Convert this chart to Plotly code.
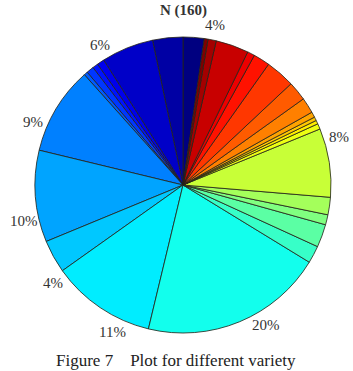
import numpy as np
import plotly.graph_objects as go

# slice sizes (percent of total), counterclockwise from 12 o'clock
values = [2.3, 3.3, 5.7, 0.8, 0.6, 0.8, 0.4, 9.6, 10.0, 3.6, 11.4, 20.0,
          1.9, 2.5, 1.1, 1.9, 7.5, 0.6, 0.4, 0.4, 0.6, 1.7, 2.1, 3.2,
          1.8, 0.8, 3.6, 0.9, 0.4]
labels_txt = ["", "", "6%", "", "", "", "", "9%", "10%", "4%", "11%", "20%",
              "", "", "", "", "8%", "", "", "", "", "", "", "",
              "", "", "4%", "", ""]
title_txt = "N (160)"
caption_txt = "Figure 7\u00a0\u00a0\u00a0\u00a0Plot for different variety"

W, H = 353, 371
CX, CY, R = 183, 185, 148


def jet(x):
    r = np.clip(1.5 - abs(4 * x - 3), 0, 1)
    g = np.clip(1.5 - abs(4 * x - 2), 0, 1)
    b = np.clip(1.5 - abs(4 * x - 1), 0, 1)
    return "rgb(%d,%d,%d)" % (round(r * 255), round(g * 255), round(b * 255))


n = len(values)
colors = [jet(i / (n - 1)) for i in range(n)]

fig = go.Figure(go.Pie(
    values=values, labels=[str(i) for i in range(n)], sort=False,
    direction="counterclockwise", rotation=0, textinfo="none",
    marker=dict(colors=colors, line=dict(color="rgba(35,35,25,0.9)", width=0.9)),
    domain=dict(x=[(CX - R) / W, (CX + R) / W], y=[1 - (CY + R) / H, 1 - (CY - R) / H]),
    showlegend=False, hoverinfo="none"))

serif = "Liberation Serif, Times New Roman, serif"
annotations = []
vals = np.array(values, dtype=float)
cum = np.cumsum(vals) / vals.sum() * 360.0
start = np.concatenate([[0], cum[:-1]])
for i, t in enumerate(labels_txt):
    if not t:
        continue
    mid = np.deg2rad((start[i] + cum[i]) / 2)  # ccw from top
    rr = R * 1.1
    px = CX - rr * np.sin(mid)
    py = CY - rr * np.cos(mid)
    annotations.append(dict(x=px / W, y=1 - py / H, xref="paper", yref="paper",
                            text=t, showarrow=False, xanchor="center", yanchor="middle",
                            font=dict(family=serif, size=15, color="#333")))
annotations.append(dict(x=CX / W, y=1 - 11 / H, xref="paper", yref="paper", text="<b>" + title_txt + "</b>",
                        showarrow=False, xanchor="center", yanchor="middle",
                        font=dict(family=serif, size=15, color="#333")))
annotations.append(dict(x=176 / W, y=1 - 360 / H, xref="paper", yref="paper", text=caption_txt,
                        showarrow=False, xanchor="center", yanchor="middle",
                        font=dict(family=serif, size=17, color="#222")))

fig.update_layout(width=W, height=H, margin=dict(l=0, r=0, t=0, b=0),
                  paper_bgcolor="white", plot_bgcolor="white", annotations=annotations)
fig.write_html("out.html")
